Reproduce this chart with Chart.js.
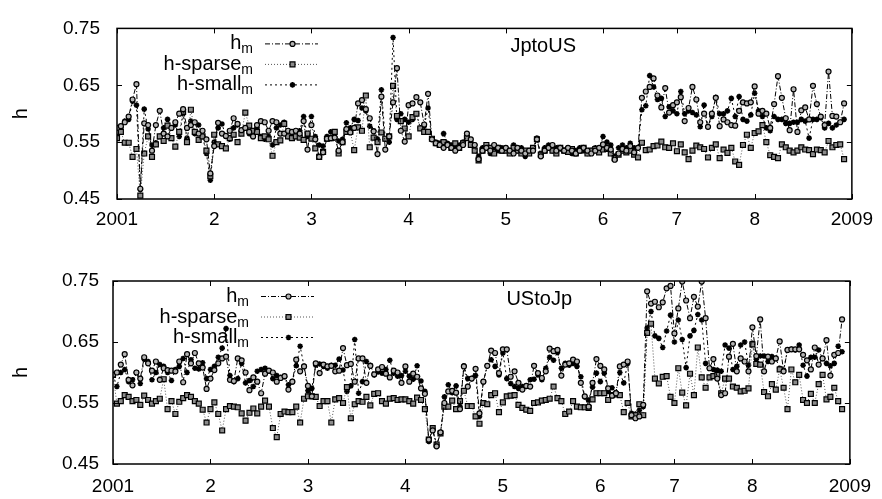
<!DOCTYPE html>
<html>
<head>
<meta charset="utf-8">
<title>h, JptoUS / UStoJp</title>
<script src="https://cdn.jsdelivr.net/npm/chart.js@4.4.1/dist/chart.umd.min.js"></script>
<style>
  html, body { margin: 0; padding: 0; background: #fff; }
  #wrap { position: relative; width: 882px; height: 499px; }
  .panel { position: absolute; left: 0; width: 882px; }
  #panel-top    { top: 0;     height: 249px; }
  #panel-bottom { top: 249px; height: 250px; }
</style>
</head>
<body>
<div id="wrap">
  <div class="panel" id="panel-top"><canvas id="chart-top" width="882" height="249"></canvas></div>
  <div class="panel" id="panel-bottom"><canvas id="chart-bottom" width="882" height="250"></canvas></div>
</div>
<script>
// x is the sample index; year boundaries fall on these indices
const yearTicks  = [0, 25, 50, 75, 100, 125, 144, 164, 189];
const yearLabels = ['2001', '2', '3', '4', '5', '6', '7', '8', '2009'];
const hTicks     = [0.45, 0.55, 0.65, 0.75];

const seriesNames = ['h', 'h-sparse', 'h-small'];
const seriesSub   = 'm';

// JptoUS
const jpHm = [
  0.575, 0.578, 0.585, 0.595, 0.625, 0.652, 0.468, 0.583, 0.58, 0.535, 0.58, 0.605, 0.565, 0.56, 0.575, 0.585, 0.60, 0.608, 0.575, 0.58, 0.585, 0.565, 0.57, 0.555, 0.495,
  0.543, 0.584, 0.565, 0.561, 0.57, 0.592, 0.582, 0.571, 0.575, 0.568, 0.56, 0.58, 0.587, 0.585, 0.57, 0.587, 0.585, 0.565, 0.565, 0.57, 0.568, 0.57, 0.565, 0.587, 0.537,
  0.58, 0.555, 0.524, 0.532, 0.556, 0.557, 0.558, 0.535, 0.55, 0.573, 0.567, 0.575, 0.618, 0.624, 0.608, 0.592, 0.569, 0.529, 0.63, 0.537, 0.56, 0.62, 0.68, 0.57, 0.551,
  0.615, 0.618, 0.629, 0.62, 0.581, 0.635, 0.555, 0.548, 0.545, 0.54, 0.545, 0.54, 0.535, 0.54, 0.545, 0.565, 0.555, 0.545, 0.52, 0.535, 0.54, 0.535, 0.545, 0.54, 0.535,
  0.54, 0.535, 0.53, 0.54, 0.535, 0.53, 0.535, 0.535, 0.555, 0.525, 0.535, 0.54, 0.545, 0.535, 0.54, 0.535, 0.54, 0.535, 0.53, 0.535, 0.54, 0.535, 0.53, 0.535, 0.54,
  0.546, 0.54, 0.537, 0.519, 0.53, 0.538, 0.535, 0.543, 0.532, 0.54, 0.628, 0.639, 0.647, 0.662, 0.632, 0.611, 0.645, 0.602, 0.615,
  0.62, 0.629, 0.587, 0.61, 0.647, 0.625, 0.585, 0.6, 0.577, 0.6, 0.628, 0.578, 0.59, 0.585, 0.58, 0.579, 0.605, 0.62, 0.618, 0.62,
  0.648, 0.6, 0.605, 0.6, 0.575, 0.617, 0.666, 0.628, 0.592, 0.571, 0.643, 0.568, 0.606, 0.611, 0.59, 0.649, 0.617, 0.595, 0.58, 0.674, 0.596, 0.595, 0.585, 0.618
];
const jpSparse = [
  0.557, 0.568, 0.549, 0.549, 0.524, 0.538, 0.456, 0.53, 0.56, 0.524, 0.546, 0.56, 0.552, 0.579, 0.557, 0.542, 0.568, 0.603, 0.55, 0.607, 0.568, 0.554, 0.56, 0.535, 0.49,
  0.563, 0.546, 0.543, 0.539, 0.557, 0.563, 0.55, 0.565, 0.602, 0.579, 0.57, 0.568, 0.557, 0.56, 0.555, 0.526, 0.55, 0.553, 0.582, 0.56, 0.557, 0.56, 0.558, 0.554, 0.565,
  0.556, 0.539, 0.524, 0.533, 0.556, 0.557, 0.568, 0.53, 0.55, 0.568, 0.568, 0.536, 0.576, 0.57, 0.632, 0.541, 0.558, 0.55, 0.567, 0.556, 0.56, 0.649, 0.596, 0.587, 0.574,
  0.56, 0.594, 0.6, 0.574, 0.568, 0.568, 0.556, 0.548, 0.545, 0.55, 0.545, 0.54, 0.548, 0.54, 0.548, 0.557, 0.545, 0.535, 0.518, 0.535, 0.545, 0.54, 0.53, 0.54, 0.535,
  0.535, 0.53, 0.54, 0.535, 0.53, 0.535, 0.53, 0.54, 0.555, 0.528, 0.535, 0.54, 0.535, 0.53, 0.54, 0.535, 0.533, 0.538, 0.53, 0.535, 0.54, 0.53, 0.535, 0.538, 0.532,
  0.537, 0.538, 0.53, 0.522, 0.528, 0.535, 0.532, 0.535, 0.528, 0.523, 0.549, 0.536, 0.537, 0.543, 0.544, 0.551, 0.541, 0.54, 0.548,
  0.534, 0.546, 0.532, 0.52, 0.535, 0.544, 0.541, 0.538, 0.523, 0.54, 0.546, 0.522, 0.537, 0.531, 0.54, 0.516, 0.51, 0.545, 0.563, 0.54,
  0.566, 0.569, 0.58, 0.55, 0.527, 0.524, 0.522, 0.546, 0.541, 0.535, 0.532, 0.535, 0.541, 0.537, 0.536, 0.529, 0.537, 0.536, 0.532, 0.552, 0.541, 0.545, 0.546, 0.52
];
const jpSmall = [
  0.56, 0.575, 0.587, 0.59, 0.622, 0.615, 0.467, 0.608, 0.573, 0.545, 0.549, 0.56, 0.575, 0.59, 0.575, 0.58, 0.56, 0.60, 0.557, 0.587, 0.565, 0.58, 0.56, 0.53, 0.483,
  0.55, 0.575, 0.582, 0.56, 0.555, 0.575, 0.58, 0.57, 0.575, 0.565, 0.56, 0.575, 0.56, 0.555, 0.56, 0.545, 0.575, 0.58, 0.585, 0.56, 0.565, 0.56, 0.57, 0.595, 0.56,
  0.595, 0.56, 0.545, 0.543, 0.56, 0.568, 0.558, 0.552, 0.555, 0.584, 0.575, 0.59, 0.588, 0.61, 0.605, 0.578, 0.57, 0.555, 0.642, 0.555, 0.55, 0.734, 0.59, 0.6, 0.59,
  0.585, 0.59, 0.6, 0.575, 0.578, 0.61, 0.555, 0.55, 0.548, 0.565, 0.548, 0.545, 0.54, 0.545, 0.55, 0.56, 0.55, 0.545, 0.525, 0.54, 0.545, 0.53, 0.54, 0.535, 0.54,
  0.54, 0.535, 0.545, 0.535, 0.54, 0.525, 0.535, 0.54, 0.557, 0.53, 0.54, 0.545, 0.535, 0.54, 0.538, 0.535, 0.54, 0.53, 0.535, 0.54, 0.535, 0.53, 0.535, 0.54, 0.535,
  0.56, 0.55, 0.545, 0.525, 0.54, 0.545, 0.54, 0.548, 0.54, 0.54, 0.607, 0.614, 0.667, 0.647, 0.625, 0.627, 0.595, 0.612, 0.605,
  0.6, 0.639, 0.6, 0.605, 0.602, 0.598, 0.577, 0.615, 0.577, 0.595, 0.629, 0.6, 0.6, 0.605, 0.627, 0.595, 0.63, 0.59, 0.587, 0.598,
  0.636, 0.605, 0.595, 0.575, 0.57, 0.595, 0.59, 0.59, 0.583, 0.583, 0.585, 0.585, 0.59, 0.587, 0.557, 0.59, 0.59, 0.593, 0.575, 0.583, 0.575, 0.58, 0.585, 0.59
];

// UStoJp
const usHm = [
  0.596, 0.6, 0.613, 0.63, 0.588, 0.579, 0.6, 0.59, 0.625, 0.615, 0.603, 0.618, 0.588, 0.607, 0.604, 0.603, 0.602, 0.618, 0.584, 0.63, 0.615, 0.632, 0.615, 0.608, 0.573,
  0.59, 0.604, 0.615, 0.623, 0.626, 0.588, 0.586, 0.623, 0.62, 0.6, 0.571, 0.592, 0.585, 0.566, 0.598, 0.603, 0.6, 0.585, 0.591, 0.594, 0.572, 0.585, 0.621, 0.602, 0.61,
  0.578, 0.561, 0.615, 0.599, 0.613, 0.61, 0.611, 0.602, 0.603, 0.64, 0.612, 0.614, 0.585, 0.623, 0.623, 0.583, 0.611, 0.597, 0.605, 0.609, 0.598, 0.592, 0.603, 0.6, 0.583,
  0.61, 0.585, 0.598, 0.593, 0.574, 0.565, 0.49, 0.505, 0.479, 0.502, 0.55, 0.569, 0.57, 0.567, 0.54, 0.61, 0.577, 0.59, 0.606, 0.533, 0.585, 0.611, 0.636, 0.632, 0.599,
  0.638, 0.638, 0.593, 0.602, 0.583, 0.572, 0.578, 0.577, 0.611, 0.599, 0.591, 0.602, 0.639, 0.635, 0.637, 0.595, 0.613, 0.615, 0.621, 0.618, 0.583, 0.561, 0.544, 0.583, 0.622,
  0.611, 0.605, 0.574, 0.562, 0.566, 0.61, 0.613, 0.618, 0.53, 0.525, 0.528, 0.547, 0.733, 0.713, 0.716, 0.707, 0.715, 0.738, 0.742,
  0.664, 0.705, 0.749, 0.718, 0.689, 0.724, 0.708, 0.749, 0.689, 0.607, 0.622, 0.59, 0.563, 0.566, 0.626, 0.647, 0.602, 0.623, 0.618, 0.602,
  0.674, 0.627, 0.687, 0.602, 0.626, 0.618, 0.623, 0.651, 0.602, 0.637, 0.638, 0.638, 0.638, 0.629, 0.62, 0.605, 0.641, 0.613, 0.623, 0.653, 0.595, 0.629, 0.632, 0.687
];
const usSparse = [
  0.596, 0.549, 0.553, 0.563, 0.56, 0.553, 0.555, 0.547, 0.562, 0.555, 0.549, 0.553, 0.557, 0.589, 0.54, 0.553, 0.532, 0.552, 0.558, 0.563, 0.56, 0.553, 0.549, 0.539, 0.518,
  0.54, 0.551, 0.532, 0.505, 0.54, 0.545, 0.544, 0.543, 0.533, 0.521, 0.534, 0.541, 0.533, 0.544, 0.554, 0.544, 0.509, 0.494, 0.532, 0.536, 0.535, 0.535, 0.544, 0.518, 0.557,
  0.561, 0.561, 0.56, 0.545, 0.553, 0.553, 0.518, 0.556, 0.558, 0.55, 0.576, 0.525, 0.548, 0.553, 0.552, 0.56, 0.546, 0.565, 0.566, 0.553, 0.549, 0.557, 0.558, 0.555, 0.556,
  0.556, 0.553, 0.549, 0.559, 0.555, 0.54, 0.49, 0.509, 0.482, 0.5, 0.544, 0.544, 0.554, 0.54, 0.553, 0.57, 0.545, 0.545, 0.528, 0.516, 0.55, 0.548, 0.563, 0.566, 0.535,
  0.551, 0.561, 0.562, 0.563, 0.547, 0.542, 0.539, 0.537, 0.55, 0.551, 0.554, 0.555, 0.557, 0.577, 0.558, 0.553, 0.532, 0.536, 0.553, 0.544, 0.543, 0.543, 0.542, 0.556, 0.566,
  0.566, 0.566, 0.555, 0.563, 0.564, 0.563, 0.535, 0.55, 0.528, 0.53, 0.548, 0.53, 0.665, 0.68, 0.59, 0.582, 0.593, 0.594, 0.56,
  0.55, 0.607, 0.567, 0.546, 0.598, 0.563, 0.641, 0.592, 0.575, 0.592, 0.594, 0.596, 0.566, 0.59, 0.59, 0.577, 0.575, 0.569, 0.57, 0.574,
  0.646, 0.614, 0.613, 0.568, 0.561, 0.581, 0.572, 0.605, 0.575, 0.54, 0.605, 0.584, 0.596, 0.555, 0.55, 0.565, 0.55, 0.581, 0.596, 0.556, 0.56, 0.575, 0.553, 0.54
];
const usSmall = [
  0.596, 0.577, 0.6, 0.605, 0.585, 0.588, 0.6, 0.582, 0.622, 0.618, 0.588, 0.6, 0.613, 0.61, 0.6, 0.587, 0.605, 0.61, 0.623, 0.6, 0.621, 0.607, 0.606, 0.616, 0.59,
  0.605, 0.61, 0.625, 0.64, 0.672, 0.595, 0.585, 0.59, 0.615, 0.583, 0.587, 0.577, 0.602, 0.605, 0.607, 0.602, 0.59, 0.595, 0.592, 0.593, 0.58, 0.585, 0.611, 0.643, 0.61,
  0.57, 0.574, 0.612, 0.614, 0.61, 0.607, 0.612, 0.612, 0.622, 0.604, 0.569, 0.578, 0.654, 0.566, 0.585, 0.618, 0.612, 0.596, 0.601, 0.599, 0.605, 0.62, 0.599, 0.594, 0.595,
  0.602, 0.594, 0.589, 0.611, 0.586, 0.569, 0.487, 0.507, 0.482, 0.5, 0.56, 0.58, 0.567, 0.578, 0.544, 0.611, 0.59, 0.59, 0.595, 0.528, 0.585, 0.611, 0.621, 0.61, 0.596,
  0.632, 0.59, 0.582, 0.577, 0.574, 0.577, 0.577, 0.588, 0.589, 0.596, 0.588, 0.607, 0.625, 0.62, 0.633, 0.607, 0.615, 0.612, 0.615, 0.61, 0.593, 0.56, 0.555, 0.576, 0.599,
  0.585, 0.599, 0.569, 0.575, 0.567, 0.6, 0.583, 0.615, 0.533, 0.532, 0.538, 0.544, 0.673, 0.7, 0.66, 0.656, 0.641, 0.668, 0.694,
  0.65, 0.686, 0.654, 0.608, 0.66, 0.669, 0.695, 0.686, 0.615, 0.607, 0.605, 0.604, 0.602, 0.645, 0.64, 0.605, 0.61, 0.645, 0.65, 0.612,
  0.648, 0.622, 0.627, 0.627, 0.618, 0.626, 0.623, 0.607, 0.604, 0.637, 0.638, 0.637, 0.645, 0.612, 0.594, 0.625, 0.625, 0.637, 0.623, 0.615, 0.611, 0.615, 0.643, 0.634
];

const FONT = "'Liberation Sans', Arial, Helvetica, sans-serif";
Chart.defaults.font.family = FONT;
Chart.defaults.color = '#000';

// line / marker look for the three estimators
const styles = [
  { borderColor: '#000', borderDash: [5, 2, 1, 2], pointStyle: 'circle', pointRadius: 2.5,
    pointBorderColor: '#000', pointBackgroundColor: '#b4b4b4', pointBorderWidth: 1.2 },
  { borderColor: '#555', borderDash: [1, 2], pointStyle: 'rect', pointRadius: 3.5,
    pointBorderColor: '#000', pointBackgroundColor: '#8c8c8c', pointBorderWidth: 1.2 },
  { borderColor: '#000', borderDash: [2, 3], pointStyle: 'star', pointRadius: 2.8,
    pointBorderColor: '#000', pointBackgroundColor: '#000', pointBorderWidth: 1.6 },
];

function makeDataset(i, values) {
  return {
    label: seriesNames[i] + '_' + seriesSub,
    data: values.map((v, k) => ({ x: k, y: v })),
    borderWidth: 1,
    pointHoverRadius: 3,
    tension: 0,
    fill: false,
    ...styles[i],
  };
}

// border box with inward ticks on all four sides
const frameTicks = {
  id: 'frameTicks',
  afterDraw(chart) {
    const { ctx, chartArea: a, scales } = chart;
    const len = 5;
    ctx.save();
    ctx.strokeStyle = '#000';
    ctx.lineWidth = 1.5;
    ctx.strokeRect(a.left, a.top, a.right - a.left, a.bottom - a.top);
    ctx.lineWidth = 1;
    ctx.beginPath();
    yearTicks.forEach(v => {
      const x = Math.round(scales.x.getPixelForValue(v)) + 0.5;
      ctx.moveTo(x, a.bottom); ctx.lineTo(x, a.bottom - len);
      ctx.moveTo(x, a.top);    ctx.lineTo(x, a.top + len);
    });
    hTicks.forEach(v => {
      const y = Math.round(scales.y.getPixelForValue(v)) + 0.5;
      ctx.moveTo(a.left, y);  ctx.lineTo(a.left + len, y);
      ctx.moveTo(a.right, y); ctx.lineTo(a.right - len, y);
    });
    ctx.stroke();
    ctx.restore();
  }
};

// key at the upper left (text, then line sample with marker) and panel name
const keyBox = {
  id: 'keyBox',
  afterDatasetsDraw(chart, args, opts) {
    const { ctx, chartArea: a } = chart;
    const rows = [15, 35.5, 56];
    ctx.save();
    chart.data.datasets.forEach((ds, i) => {
      const y = a.top + rows[i];
      const textRight = a.left + 136;
      ctx.fillStyle = '#000';
      ctx.textAlign = 'left';
      ctx.textBaseline = 'alphabetic';
      ctx.font = `14px ${FONT}`;
      const subW = ctx.measureText(seriesSub).width;
      ctx.fillText(seriesSub, textRight - subW, y + 10);
      ctx.font = `20px ${FONT}`;
      ctx.textAlign = 'right';
      ctx.fillText(seriesNames[i], textRight - subW, y + 6);

      ctx.strokeStyle = ds.borderColor;
      ctx.lineWidth = 1;
      ctx.setLineDash(ds.borderDash);
      ctx.beginPath();
      ctx.moveTo(a.left + 148, y + 0.5);
      ctx.lineTo(a.left + 201, y + 0.5);
      ctx.stroke();
      ctx.setLineDash([]);
      ctx.strokeStyle = ds.pointBorderColor;
      ctx.fillStyle = ds.pointBackgroundColor;
      ctx.lineWidth = ds.pointBorderWidth;
      Chart.helpers.drawPoint(ctx, {
        pointStyle: ds.pointStyle, radius: ds.pointRadius, borderWidth: ds.pointBorderWidth, rotation: 0
      }, a.left + 175.5, y + 0.5);
    });
    ctx.font = `20px ${FONT}`;
    ctx.textAlign = 'right';
    ctx.fillStyle = '#000';
    ctx.fillText(opts.name, a.left + 459, a.top + 24);
    ctx.restore();
  }
};

function buildPanel(canvasId, name, series, geo) {
  const ctx = document.getElementById(canvasId).getContext('2d');
  return new Chart(ctx, {
    type: 'line',
    data: { datasets: series.map((vals, i) => makeDataset(i, vals)) },
    options: {
      responsive: false,
      animation: false,
      events: [],
      layout: { padding: { left: 0, right: geo.right, top: geo.top, bottom: 0 } },
      plugins: {
        legend: { display: false },
        tooltip: { enabled: false },
        keyBox: { name },
      },
      scales: {
        x: {
          type: 'linear', min: 0, max: 189,
          grid: { display: false, drawTicks: false },
          border: { display: false },
          afterBuildTicks: s => { s.ticks = yearTicks.map(v => ({ value: v })); },
          afterFit: s => { s.height = geo.xHeight; },
          ticks: {
            autoSkip: false, maxRotation: 0, padding: geo.xPad,
            font: { size: 19 },
            callback: v => yearLabels[yearTicks.indexOf(v)],
          },
        },
        y: {
          min: 0.45, max: 0.75,
          grid: { display: false, drawTicks: false },
          border: { display: false },
          afterBuildTicks: s => { s.ticks = hTicks.map(v => ({ value: v })); },
          afterFit: s => { s.width = geo.yWidth; },
          ticks: { padding: geo.yPad, font: { size: 19 }, callback: v => v.toFixed(2) },
          title: { display: true, text: 'h', font: { size: 20 }, padding: { top: 9, bottom: 0 } },
        },
      },
    },
    plugins: [frameTicks, keyBox],
  });
}

buildPanel('chart-top', 'JptoUS', [jpHm, jpSparse, jpSmall],
  { top: 15, right: 26, yWidth: 117, xHeight: 50, xPad: 9, yPad: 17 });
buildPanel('chart-bottom', 'UStoJp', [usHm, usSparse, usSmall],
  { top: 32, right: 29, yWidth: 113, xHeight: 35, xPad: 11, yPad: 14 });
</script>
</body>
</html>
